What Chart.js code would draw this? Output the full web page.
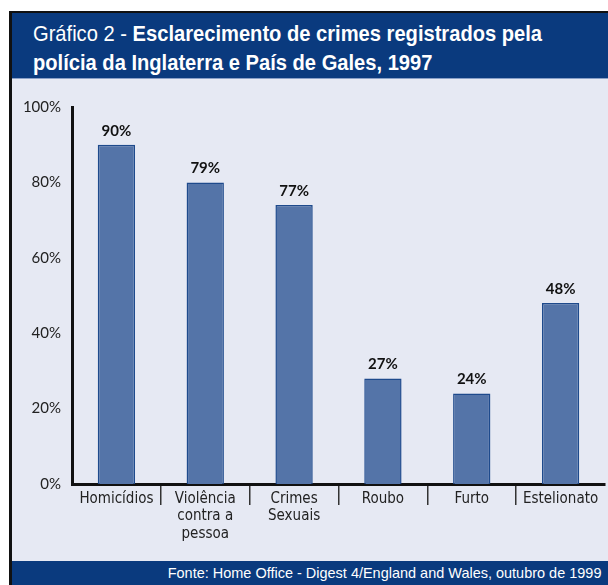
<!DOCTYPE html>
<html>
<head>
<meta charset="utf-8">
<script src="https://cdn.jsdelivr.net/npm/chart.js@4.4.1/dist/chart.umd.min.js"></script>
<style>
  body { margin: 0; background: #fff; width: 608px; height: 585px; overflow: hidden; position: relative; }
  #frame { position: absolute; left: 9px; top: 11px; width: 599px; height: 574px;
           border-left: 3px solid #111; border-top: 2px solid #111; box-sizing: border-box; background: #e6e9f3; }
  #header { position: absolute; left: 12px; top: 13px; right: 0; height: 66px; background: #0a3a7e;
            border-bottom: 1px solid #8aa0c8; box-sizing: border-box; }
  .title { position: absolute; left: 33px; color: #fff; font-family: "Liberation Sans", Arial, sans-serif;
           font-size: 22px; white-space: nowrap; line-height: 1; transform: scaleX(0.915); transform-origin: left top; }
  #footer { position: absolute; left: 12px; top: 561px; right: 0; height: 24px; background: #0a3a7e; }
  #source { position: absolute; right: 7px; top: 565px; color: #fff; font-family: "Liberation Sans", sans-serif;
            font-size: 15px; white-space: nowrap; line-height: 1; transform: scaleX(0.965); transform-origin: right top; }
  #wrap { position: absolute; left: 12px; top: 79px; width: 596px; height: 482px; }
</style>
</head>
<body>
<div id="frame"></div>
<div id="header"></div>
<div class="title" style="top:23px">Gráfico 2 - <b>Esclarecimento de crimes registrados pela</b></div>
<div class="title" style="top:52px"><b>polícia da Inglaterra e País de Gales, 1997</b></div>
<div id="wrap"><canvas id="chart" width="596" height="482"></canvas></div>
<div id="footer"></div>
<div id="source">Fonte: Home Office - Digest 4/England and Wales, outubro de 1999</div>

<script>
// categories
const categories = [
  "Homicídios",
  ["Violência", "contra a", "pessoa"],
  ["Crimes", "Sexuais"],
  "Roubo",
  "Furto",
  "Estelionato"
];
// bar heights as drawn in the picture (%)
const values = [90, 80, 74, 28, 24, 48];
// labels printed above the bars
const valueLabels = ["90%", "79%", "77%", "27%", "24%", "48%"];
// y axis ticks
const yTicks = [0, 20, 40, 60, 80, 100];

// draw the percentage above each bar
const barLabels = {
  id: "barLabels",
  afterDatasetsDraw(chart) {
    const ctx = chart.ctx;
    const meta = chart.getDatasetMeta(0);
    ctx.save();
    ctx.font = "bold 15px Lato, sans-serif";
    ctx.fillStyle = "#111";
    ctx.textAlign = "center";
    ctx.textBaseline = "middle";
    meta.data.forEach((bar, i) => {
      ctx.fillText(valueLabels[i], bar.x, bar.y - 14);
    });
    ctx.restore();
  }
};

const ctx = document.getElementById("chart").getContext("2d");
new Chart(ctx, {
  type: "bar",
  data: {
    labels: categories,
    datasets: [{
      data: values,
      backgroundColor: "#5474a8",
      borderColor: "#1e4a8c",
      borderWidth: 1.5,
      barPercentage: 0.42,
      categoryPercentage: 1
    }]
  },
  options: {
    responsive: false,
    animation: false,
    layout: { padding: { top: 28, right: 3, left: 0, bottom: 0 } },
    plugins: {
      legend: { display: false },
      tooltip: { enabled: false }
    },
    scales: {
      y: {
        min: 0,
        max: 100,
        afterFit(scale) { scale.width = 60; },
        afterBuildTicks(scale) { scale.ticks = yTicks.map(v => ({ value: v })); },
        grid: { display: false },
        border: { display: true, color: "#111", width: 3 },
        ticks: {
          padding: 3,
          color: "#222",
          font: { family: "Lato, sans-serif", size: 15 },
          callback: v => v + "%"
        }
      },
      x: {
        afterFit(scale) { scale.height = 77; },
        grid: {
          display: true,
          offset: true,
          drawOnChartArea: false,
          drawTicks: true,
          tickLength: 21,
          lineWidth: 1.5,
          color: c => (c.index === undefined || c.index === 0) ? "rgba(0,0,0,0)" : "#333"
        },
        border: { display: true, color: "#111", width: 3 },
        ticks: {
          padding: -15,
          color: "#222",
          maxRotation: 0,
          autoSkip: false,
          font: { family: "'DejaVu Sans Condensed', sans-serif", size: 15, lineHeight: 1.17 }
        }
      }
    }
  },
  plugins: [barLabels]
});
</script>
</body>
</html>
